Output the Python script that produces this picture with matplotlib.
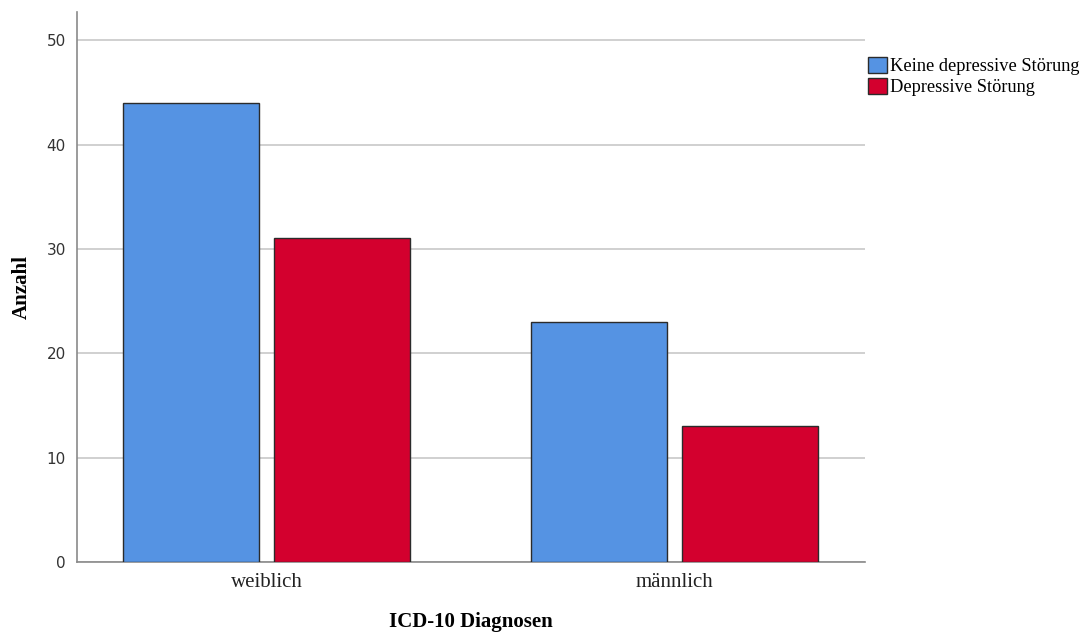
import numpy as np
import matplotlib
matplotlib.use("Agg")
import matplotlib.pyplot as plt

categories = ["weiblich", "männlich"]
series_names = ["Keine depressive Störung", "Depressive Störung"]
keine = [44, 23]
depressiv = [31, 13]
yticks = [0, 10, 20, 30, 40, 50]

colors = ["#5593e3", "#d3002e"]
serif = "Liberation Serif"

fig = plt.figure(figsize=(10.83, 6.35), dpi=100)
ax = fig.add_axes([0.0711, 0.115, 0.7276, 0.866])

x = np.arange(len(categories))
w = 0.333
off = 0.185
ax.bar(x - off, keine, w, color=colors[0], edgecolor="#2b2b2b", linewidth=1.0,
       label=series_names[0], zorder=3)
ax.bar(x + off, depressiv, w, color=colors[1], edgecolor="#2b2b2b", linewidth=1.0,
       label=series_names[1], zorder=3)

ax.set_xlim(-0.4645, 1.467)
ax.set_ylim(0, 52.7)
ax.set_yticks(yticks)
ax.set_yticklabels([str(v) for v in yticks], fontsize=11, color="#333333",
                   family="DejaVu Sans")
ax.set_xticks(x)
ax.set_xticklabels(categories, fontsize=15, family=serif, color="#222222")
ax.tick_params(axis="both", length=0, pad=8)
ax.tick_params(axis="x", pad=8)

ax.yaxis.grid(True, color="#c8c8c8", linewidth=1.2, zorder=0)
for s in ["top", "right"]:
    ax.spines[s].set_visible(False)
ax.spines["left"].set_color("#8a8a8a")
ax.spines["bottom"].set_color("#8a8a8a")
ax.spines["left"].set_linewidth(1.2)
ax.spines["bottom"].set_linewidth(1.2)

# axis titles placed directly
fig.text(22 / 1083, 1 - 287 / 635, "Anzahl", rotation=90, ha="center", va="center",
         fontsize=15, fontweight="bold", family=serif)
fig.text(471 / 1083, 1 - 622 / 635, "ICD-10 Diagnosen", ha="center", va="center",
         fontsize=15, fontweight="bold", family=serif)

leg = fig.legend(loc="upper left", bbox_to_anchor=(0.7865, 0.937), frameon=False,
                 prop={"family": serif, "size": 13.2}, handlelength=1.0,
                 handleheight=1.0, handletextpad=0.2, labelspacing=0.15)

fig.savefig("out.png", dpi=100)
